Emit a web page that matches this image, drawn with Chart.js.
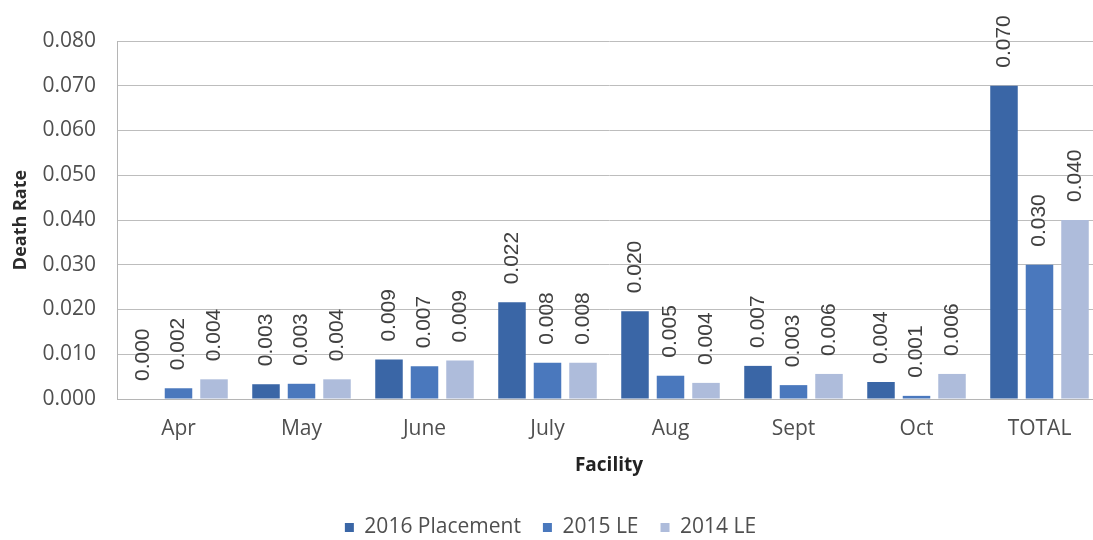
<!DOCTYPE html>
<html>
<head>
<meta charset="utf-8">
<script src="https://cdn.jsdelivr.net/npm/chart.js@4.4.1/dist/chart.umd.min.js"></script>
<style>
  html, body { margin: 0; padding: 0; background: #ffffff; overflow: hidden; }
  #wrap { width: 1101px; height: 540px; }
</style>
</head>
<body>
<div id="wrap"><canvas id="c" width="1101" height="540"></canvas></div>
<script>
const categories = ["Apr", "May", "June", "July", "Aug", "Sept", "Oct", "TOTAL"];
const seriesNames = ["2016 Placement", "2015 LE", "2014 LE"];
const placement2016 = [0.0000, 0.0033, 0.0088, 0.0216, 0.0196, 0.0074, 0.0038, 0.0700];
const le2015 = [0.0024, 0.0034, 0.0073, 0.0081, 0.0052, 0.0031, 0.0007, 0.0300];
const le2014 = [0.0044, 0.0044, 0.0086, 0.0081, 0.0036, 0.0056, 0.0056, 0.0400];
const yTicks = [0, 0.01, 0.02, 0.03, 0.04, 0.05, 0.06, 0.07, 0.08];
const colors = ["#3A66A6", "#4A78BD", "#AEBCDB"];

const FONT = "'Open Sans', 'DejaVu Sans', sans-serif";

const dataLabelPlugin = {
  id: 'rotatedLabels',
  afterDatasetsDraw(chart) {
    const ctx = chart.ctx;
    ctx.save();
    ctx.font = "21px 'Liberation Sans', Arial, sans-serif";
    ctx.fillStyle = '#404040';
    ctx.textAlign = 'left';
    ctx.textBaseline = 'middle';
    chart.data.datasets.forEach((ds, di) => {
      const meta = chart.getDatasetMeta(di);
      meta.data.forEach((bar, i) => {
        const v = ds.data[i];
        ctx.save();
        ctx.translate(bar.x, bar.y - 18);
        ctx.rotate(-Math.PI / 2);
        ctx.fillText(v.toFixed(3), 0, 0);
        ctx.restore();
      });
    });
    ctx.restore();
  }
};

const legendShift = {
  id: 'legendShift',
  afterLayout(chart) {
    const lg = chart.legend;
    if (lg) { lg.top += 8; lg.bottom += 8; }
  }
};

new Chart(document.getElementById('c'), {
  type: 'bar',
  data: {
    labels: categories,
    datasets: [
      { label: seriesNames[0], data: placement2016, backgroundColor: colors[0] },
      { label: seriesNames[1], data: le2015, backgroundColor: colors[1] },
      { label: seriesNames[2], data: le2014, backgroundColor: colors[2] }
    ]
  },
  options: {
    responsive: false,
    animation: false,
    devicePixelRatio: 1,
    layout: { padding: { top: 41, left: 0, right: 0, bottom: 0 } },
    datasets: { bar: { categoryPercentage: 0.866, barPercentage: 0.775 } },
    plugins: {
      legend: {
        position: 'bottom',
        labels: {
          font: { family: FONT, size: 21 },
          color: '#4f4f4f',
          boxWidth: 9,
          boxHeight: 9,
          padding: 22
        }
      },
      tooltip: { enabled: false }
    },
    scales: {
      x: {
        grid: { display: false, drawTicks: false },
        border: { display: true, color: '#b5b5b5', width: 1 },
        ticks: { font: { family: FONT, size: 21 }, color: '#4f4f4f', padding: 17 },
        title: {
          display: true, text: 'Facility',
          font: { family: FONT, size: 19, weight: 'bold' }, color: '#222222',
          padding: { top: 0, bottom: 10 }
        },
        afterFit(s) {
          const lh = s.chart.legend ? s.chart.legend.height : 0;
          s.height = s.chart.height - 399 - lh;
        }
      },
      y: {
        min: 0, max: 0.08,
        afterBuildTicks(s) { s.ticks = yTicks.map(v => ({ value: v })); },
        grid: { color: '#bdbdbd', lineWidth: 1, drawTicks: false },
        border: { display: true, color: '#b5b5b5', width: 1 },
        ticks: {
          font: { family: FONT, size: 21 }, color: '#4f4f4f', padding: 21,
          callback: v => Number(v).toFixed(3)
        },
        title: {
          display: true, text: 'Death Rate',
          font: { family: FONT, size: 18, weight: 'bold' }, color: '#2b2b2b',
          padding: { top: 10, bottom: 0 }
        },
        afterFit(s) { s.width = 117; }
      }
    }
  },
  plugins: [dataLabelPlugin, legendShift]
});
</script>
</body>
</html>
